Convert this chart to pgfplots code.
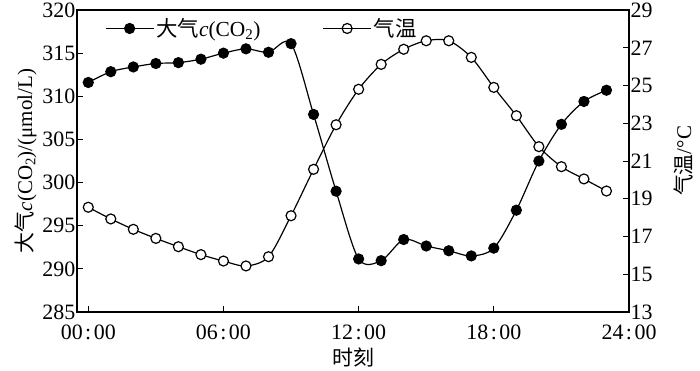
\documentclass[border=0pt]{standalone}
\usepackage{pgfplots}
\pgfplotsset{compat=1.18}
\usepackage{fontspec}
\setmainfont{Liberation Serif}
\newfontfamily\cjk{Noto Sans CJK SC}

\pgfplotsset{
  common/.style={
    scale only axis, width=552bp, height=302bp,
    xmin=-0.5, xmax=24,
    /pgf/number format/assume math mode=true,
    tick label style={font=\fontsize{22}{24}\selectfont, inner sep=1.5bp},
    label style={font=\fontsize{21}{24}\selectfont},
    axis line style={line width=1.2pt},
    major tick length=6bp,
    tick style={line width=1pt, black},
  },
  legend image code/.code={%
    \draw[mark repeat=2,mark phase=2,#1] plot coordinates {(0bp,0bp) (24bp,0bp) (48bp,0bp)};%
  },
}
\newcommand{\hm}[2]{#1\kern2.5bp:\kern2.5bp#2}

\begin{document}
\begin{tikzpicture}
\begin{axis}[common, name=main,
  ymin=285, ymax=320,
  ytick={285,290,...,320},
  xtick={0,6,12,18,24},
  xticklabels={\hm{00}{00},\hm{06}{00},\hm{12}{00},\hm{18}{00},\hm{24}{00}},
  xticklabel style={yshift=-11bp},
  xtick pos=bottom, ytick pos=left,
  ylabel={{\cjk 大气}\textit{c}(CO\textsubscript{2})/(μmol/L)},
  xlabel={\cjk 时刻},
  ylabel style={at={(rel axis cs:-0.093,0.5)}, anchor=center},
  xlabel style={at={(rel axis cs:0.5,-0.152)}, anchor=center},
  legend columns=2,
  legend style={draw=none, fill=none, at={(0.045,0.985)}, anchor=north west,
    font=\fontsize{21.5}{24}\selectfont,
    /tikz/every even column/.style={column sep=60bp}},
]
\addplot[black, line width=1.2pt, smooth, mark=*, mark size=5bp, mark options={fill=black}]
coordinates {
(0,311.6) (1,312.85) (2,313.4) (3,313.8) (4,313.9) (5,314.3) (6,315.0) (7,315.5)
(8,315.1) (9,316.1) (10,307.9) (11,299.0) (12,291.15) (13,290.95) (14,293.4) (15,292.65)
(16,292.1) (17,291.5) (18,292.4) (19,296.8) (20,302.5) (21,306.75) (22,309.4) (23,310.7)
};
\addlegendentry{{\cjk 大气}\textit{c}(CO\textsubscript{2})}
\addlegendimage{black, line width=1.2pt, mark=o, mark size=5bp, mark options={fill=white}}
\addlegendentry{\cjk 气温}
\end{axis}
\begin{axis}[common,
  ymin=13, ymax=29,
  ytick={13,15,...,29},
  axis y line*=right, axis x line=none,
  ylabel={{\cjk 气温}/°C},
  ylabel style={at={(rel axis cs:1.098,0.5)}, anchor=center},
]
\addplot[black, line width=1.2pt, smooth, mark=*, mark size=5bp, mark options={fill=white}]
coordinates {
(0,18.55) (1,17.93) (2,17.38) (3,16.9) (4,16.46) (5,16.04) (6,15.7) (7,15.44)
(8,15.93) (9,18.1) (10,20.56) (11,22.92) (12,24.8) (13,26.12) (14,26.92) (15,27.37)
(16,27.37) (17,26.49) (18,24.9) (19,23.4) (20,21.76) (21,20.7) (22,20.05) (23,19.41)
};
\end{axis}
\path (main.south west) ++(-77bp,-58bp);
\path (main.north east) ++(71bp,10bp);
\end{tikzpicture}
\end{document}
